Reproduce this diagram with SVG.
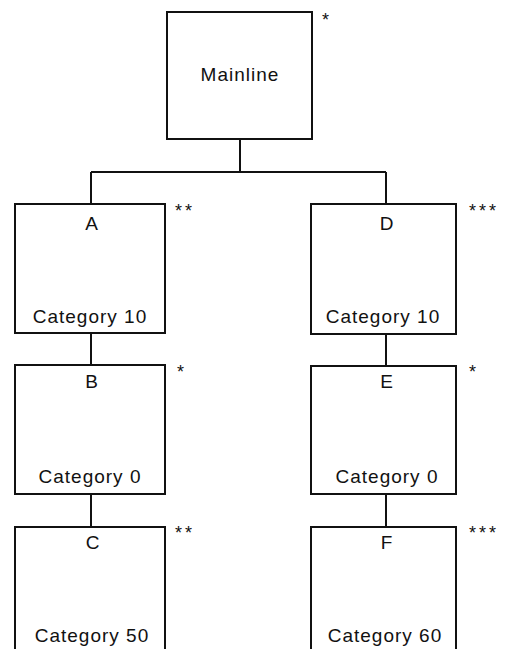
<svg xmlns="http://www.w3.org/2000/svg" width="510" height="649" viewBox="0 0 510 649">
<style>
.box{fill:#fff;stroke:#111;stroke-width:2}
.conn{fill:none;stroke:#111;stroke-width:2}
.lbl{font-family:"Liberation Sans",Arial,sans-serif;font-size:19px;letter-spacing:1px;fill:#111;text-anchor:middle}
.star{font-family:"Liberation Sans",Arial,sans-serif;font-size:18px;fill:#111;letter-spacing:3px}
</style>
<rect width="510" height="649" fill="#fff"/>
<g id="connectors">
<path class="conn" d="M240 139V172M91 172H386M91 172V204M386 172V204"/>
<path class="conn" d="M91 333V365M91 494V527"/>
<path class="conn" d="M386 334V366M386 494V527"/>
</g>
<g id="mainline">
<rect class="box" x="167" y="12" width="145" height="127"/>
<text class="lbl" x="240" y="81">Mainline</text>
<text class="star" x="322" y="26">*</text>
</g>
<g id="A">
<rect class="box" x="15" y="204" width="150" height="129"/>
<text class="lbl" x="92" y="230">A</text>
<text class="lbl" x="90" y="323">Category 10</text>
<text class="star" x="175" y="217">**</text>
</g>
<g id="D">
<rect class="box" x="311" y="204" width="145" height="130"/>
<text class="lbl" x="387" y="230">D</text>
<text class="lbl" x="383" y="323">Category 10</text>
<text class="star" x="469" y="217">***</text>
</g>
<g id="B">
<rect class="box" x="15" y="365" width="150" height="129"/>
<text class="lbl" x="92" y="388">B</text>
<text class="lbl" x="90" y="483">Category 0</text>
<text class="star" x="177" y="378">*</text>
</g>
<g id="E">
<rect class="box" x="311" y="366" width="145" height="128"/>
<text class="lbl" x="387" y="388">E</text>
<text class="lbl" x="387" y="483">Category 0</text>
<text class="star" x="469" y="378">*</text>
</g>
<g id="C">
<rect class="box" x="15" y="527" width="150" height="140"/>
<text class="lbl" x="93" y="549">C</text>
<text class="lbl" x="92" y="642">Category 50</text>
<text class="star" x="175" y="539">**</text>
</g>
<g id="F">
<rect class="box" x="311" y="527" width="145" height="140"/>
<text class="lbl" x="387" y="549">F</text>
<text class="lbl" x="385" y="642">Category 60</text>
<text class="star" x="469" y="539">***</text>
</g>
</svg>
